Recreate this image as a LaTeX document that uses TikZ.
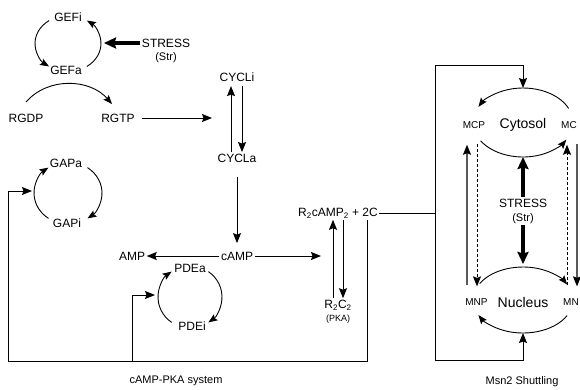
\documentclass[tikz,border=0pt]{standalone}
\usepackage{fontspec}
\setmainfont{Liberation Sans}
\usetikzlibrary{arrows.meta,calc}
\begin{document}
\begin{tikzpicture}[x=1pt,y=1pt,
  lbl/.style={inner sep=1.5pt, font=\fontsize{12}{14}\selectfont},
  sml/.style={inner sep=1pt, font=\fontsize{10}{12}\selectfont},
  big/.style={inner sep=1pt, font=\fontsize{14}{16}\selectfont},
  captxt/.style={inner sep=1pt, font=\fontsize{11}{13}\selectfont},
  tinytxt/.style={inner sep=1pt, font=\fontsize{9}{11}\selectfont},
  plain/.style={line width=1pt},
  arr/.style={line width=1pt, -{Stealth[length=10pt,width=8pt,inset=1.5pt]}},
  grayarr/.style={line width=1.2pt, draw=black!65, -{Stealth[length=10pt,width=8pt,inset=1.5pt,color=black]}},
  cyc/.style={line width=0.9pt, -{Stealth[length=9pt,width=7pt,inset=1.5pt]}},
  thickarr/.style={line width=3.2pt, -{Stealth[length=12pt,width=11pt,inset=1.5pt]}},
  dasharr/.style={arr, dash pattern=on 3pt off 2pt}
]
\useasboundingbox (0,0) rectangle (580,-389);

% ---------- cAMP-PKA system ----------
\node[lbl] (GEFi) at (68,-17) {GEFi};
\node[lbl] (GEFa) at (66,-70) {GEFa};
\node[lbl] (STRESS) at (166,-43) {STRESS};
\node[captxt] (Str) at (166,-58) {(Str)};
\node[lbl] (RGDP) at (26,-118) {RGDP};
\node[lbl] (RGTP) at (118,-118) {RGTP};
\node[lbl] (CYCLi) at (237,-77) {CYCLi};
\node[lbl] (CYCLa) at (237,-158) {CYCLa};
\node[lbl] (GAPa) at (66,-163) {GAPa};
\node[lbl] (GAPi) at (67,-223) {GAPi};
\node[lbl] (AMP) at (132,-256) {AMP};
\node[lbl] (cAMP) at (237,-256) {cAMP};
\node[lbl] (PDEa) at (190,-268) {PDEa};
\node[lbl] (PDEi) at (192,-326) {PDEi};
\node[lbl] (R2) at (338,-213) {R\textsubscript{2}cAMP\textsubscript{2} + 2C};
\node[lbl] (R2C2) at (338,-305) {R\textsubscript{2}C\textsubscript{2}};
\node[tinytxt] (PKA) at (338,-319) {(PKA)};
\node[captxt] (sys) at (176,-381) {cAMP-PKA system};

\coordinate (gefC) at (68,-43.5);
\coordinate (gapC) at (68,-193);
\coordinate (pdeC) at (190,-297);
\coordinate (gefR) at (104,-43);
\coordinate (cycIn) at (212,-118);
\coordinate (r2In) at (321,-256);
\coordinate (fbR) at (367,-361);
\coordinate (fbB) at (132,-361);
\coordinate (fbL) at (8,-361);
\coordinate (gapIn) at (32,-191);
\coordinate (pdeIn) at (155,-295);

% GEF cycle
\draw[cyc] ($(gefC)+(125:33pt and 28pt)$) arc[start angle=125,end angle=235,x radius=33pt,y radius=28pt];
\draw[cyc] ($(gefC)+(-55:33pt and 28pt)$) arc[start angle=-55,end angle=55,x radius=33pt,y radius=28pt];
\draw[thickarr] (STRESS.west) -- (gefR);

% Ras cycle
\draw[cyc] ([yshift=10pt]RGDP.north) to[out=49,in=131] ([xshift=-6pt,yshift=8pt]RGTP.north);
\draw[arr, shorten <=6pt] (RGTP.east) -- (cycIn);

% GAP cycle
\draw[cyc] ($(gapC)+(235:34pt and 31pt)$) arc[start angle=235,end angle=125,x radius=34pt,y radius=31pt];
\draw[cyc] ($(gapC)+(55:34pt and 31pt)$) arc[start angle=55,end angle=-55,x radius=34pt,y radius=31pt];

% Cyclase
\draw[arr, shorten >=3pt] ([xshift=-6pt]CYCLa.north) -- ([xshift=-6pt]CYCLi.south);
\draw[arr, shorten <=3pt] ([xshift=5pt]CYCLi.south) -- ([xshift=5pt]CYCLa.north);
\draw[arr, shorten <=13pt, shorten >=7pt] (CYCLa.south) -- (cAMP.north);

% cAMP
\draw[arr] (cAMP.west) -- (AMP.east);
\draw[arr] (cAMP.east) -- (r2In);

% PDE cycle
\draw[cyc] ($(pdeC)+(235:32pt and 31pt)$) arc[start angle=235,end angle=125,x radius=32pt,y radius=31pt];
\draw[cyc] ($(pdeC)+(55:32pt and 31pt)$) arc[start angle=55,end angle=-55,x radius=32pt,y radius=31pt];

% PKA
\draw[arr] ([xshift=-5pt]R2C2.north) -- ([xshift=-5pt]R2.south);
\draw[arr] ([xshift=5pt]R2.south) -- ([xshift=5pt]R2C2.north);

% feedback
\draw[arr] ([xshift=29pt]R2.south) -- (fbR) -- (fbL) |- (gapIn);
\draw[arr] (fbB) |- (pdeIn);

% ---------- Msn2 shuttling ----------
\node[big] (Cyt) at (523,-125) {Cytosol};
\node[sml] (MCP) at (474,-125) {MCP};
\node[sml] (MC) at (569,-125) {MC};
\node[lbl] (STRESS2) at (523,-203) {STRESS};
\node[captxt] (Str2) at (523,-219) {(Str)};
\node[big] (Nuc) at (523,-302) {Nucleus};
\node[sml] (MNP) at (476.5,-302) {MNP};
\node[sml] (MN) at (571,-302) {MN};
\node[captxt] (msn) at (522,-382) {Msn2 Shuttling};

\coordinate (cytC) at (523,-122.5);
\coordinate (nucC) at (523,-300);
\coordinate (cytTop) at (523,-88);
\coordinate (cytBot) at (523,-157);
\coordinate (nucTop) at (523,-264);
\coordinate (nucBot) at (523,-333);
\coordinate (j) at (435,-213);
\coordinate (jt) at (435,-65);
\coordinate (jb) at (435,-360);
\coordinate (colA) at (467,0);
\coordinate (colB) at (477,0);
\coordinate (colC) at (567,0);
\coordinate (colD) at (577,0);

\draw[plain] (R2.east) -- (j);
\draw[arr] (j) -- (jt) -| (cytTop);
\draw[arr] (j) -- (jb) -| (nucBot);

\draw[cyc] ($(cytC)+(24:50pt and 34.5pt)$) arc[start angle=24,end angle=153,x radius=50pt,y radius=34.5pt];
\draw[cyc] ($(cytC)+(212:50pt and 34.5pt)$) arc[start angle=212,end angle=330,x radius=50pt,y radius=34.5pt];
\draw[cyc] ($(nucC)+(150:50pt and 33pt)$) arc[start angle=150,end angle=28,x radius=50pt,y radius=33pt];
\draw[cyc] ($(nucC)+(-28:50pt and 33pt)$) arc[start angle=-28,end angle=-153,x radius=50pt,y radius=33pt];

\draw[thickarr] (STRESS2.north) -- (cytBot);
\draw[thickarr] (Str2.south) -- (nucTop);

\draw[grayarr, shorten <=12pt, shorten >=15pt] (colA |- MNP.north) -- (colA |- MCP.south);
\draw[dasharr, shorten <=14pt, shorten >=11pt] (colB |- MCP.south) -- (colB |- MNP.north);
\draw[dasharr, shorten <=12pt, shorten >=15pt] (colC |- MN.north) -- (colC |- MC.south);
\draw[grayarr, shorten <=14pt, shorten >=11pt] (colD |- MC.south) -- (colD |- MN.north);
\end{tikzpicture}
\end{document}
